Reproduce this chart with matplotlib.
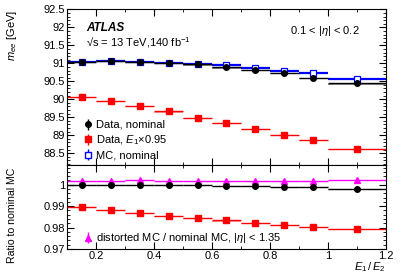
import numpy as np
import matplotlib
matplotlib.use("Agg")
import matplotlib.pyplot as plt
from matplotlib.ticker import MultipleLocator, FuncFormatter

plt.rcParams['font.family'] = ['Liberation Sans', 'DejaVu Sans']
plt.rcParams['mathtext.fontset'] = 'custom'
plt.rcParams['mathtext.it'] = 'Liberation Sans:italic'
plt.rcParams['mathtext.rm'] = 'Liberation Sans'

# bins in E1/E2
bin_lo = [0.1, 0.2, 0.3, 0.4, 0.5, 0.6, 0.7, 0.8, 0.9, 1.0]
bin_hi = [0.2, 0.3, 0.4, 0.5, 0.6, 0.7, 0.8, 0.9, 1.0, 1.2]

# top panel: m_ee [GeV]
data_nom = [91.04, 91.07, 91.05, 91.02, 90.97, 90.89, 90.81, 90.73, 90.60, 90.44]
data_scaled = [90.07, 89.96, 89.81, 89.66, 89.48, 89.34, 89.18, 89.01, 88.87, 88.62]
mc_nom = [91.04, 91.07, 91.05, 91.02, 90.98, 90.96, 90.87, 90.79, 90.72, 90.56]

# bottom panel: ratio to nominal MC
ratio_data = [0.9997, 0.9998, 1.0000, 0.9997, 0.9997, 0.9993, 0.9993, 0.9991, 0.9988, 0.9982]
ratio_scaled = [0.9897, 0.9882, 0.9868, 0.9855, 0.9844, 0.9833, 0.9822, 0.9813, 0.9804, 0.9795]
ratio_distorted = [1.0015, 1.0015, 1.0020, 1.0015, 1.0016, 1.0016, 1.0018, 1.0017, 1.0019, 1.0022]

lo = np.array(bin_lo)
hi = np.array(bin_hi)
x = (lo + hi) / 2
xerr = (hi - lo) / 2

fig = plt.figure(figsize=(4.07, 2.77), dpi=100)
ax1 = fig.add_axes([0.165, 0.403, 0.783, 0.563])
ax2 = fig.add_axes([0.165, 0.101, 0.783, 0.302], sharex=ax1)

fs = 8
fmt = FuncFormatter(lambda v, p: f'{v:g}')

# top panel
ax1.errorbar(x, mc_nom, xerr=xerr, yerr=0.01, fmt='s', color='blue', mfc='white',
             mec='blue', ms=4, lw=1.6, mew=0.9, zorder=2)
ax1.bar(x, 0.03, width=2 * xerr, bottom=np.array(data_nom) - 0.035, color='0.55', zorder=2)
ax1.errorbar(x, data_nom, xerr=xerr, yerr=0.01, fmt='o', color='black', ms=4, lw=1.0, zorder=3)
ax1.bar(x, 0.03, width=2 * xerr, bottom=np.array(data_scaled) - 0.035, color='#ff9999', zorder=2)
ax1.errorbar(x, data_scaled, xerr=xerr, yerr=0.01, fmt='s', color='red', ms=4, lw=1.0, zorder=3)

ax1.set_ylim(88.16, 92.5)
ax1.yaxis.set_major_locator(MultipleLocator(0.5))
ax1.yaxis.set_minor_locator(MultipleLocator(0.1))
ax1.yaxis.set_major_formatter(fmt)
plt.setp(ax1.get_xticklabels(), visible=False)

ax1.text(0.06, 0.86, 'ATLAS', transform=ax1.transAxes, fontsize=8.5,
         fontweight='bold', fontstyle='italic')
ax1.text(0.06, 0.765, '√s = 13 TeV,140 fb$^{-1}$', transform=ax1.transAxes, fontsize=fs)
ax1.text(0.70, 0.84, r'0.1 < |$\eta$| < 0.2', transform=ax1.transAxes, fontsize=fs)

hd = ax1.errorbar([], [], yerr=[], fmt='o', color='black', ms=4, lw=1.0)
hs = ax1.errorbar([], [], yerr=[], fmt='s', color='red', ms=4, lw=1.0)
hm = ax1.errorbar([], [], yerr=[], fmt='s', color='blue', mfc='white', ms=4, lw=1.0)
ax1.legend([hd, hs, hm], ['Data, nominal', r'Data, $E_1$$\times$0.95', 'MC, nominal'],
           loc='lower left', bbox_to_anchor=(0.03, -0.02), frameon=False, fontsize=fs,
           handlelength=0.6, handletextpad=0.4, labelspacing=0.32, borderpad=0.2)

# bottom panel
ax2.errorbar(x, ratio_distorted, xerr=xerr, yerr=0.0002, fmt='^', color='magenta', ms=4,
             lw=1.0, zorder=3)
ax2.bar(x, 0.0004, width=2 * xerr, bottom=np.array(ratio_data) - 0.0005, color='0.55', zorder=2)
ax2.errorbar(x, ratio_data, xerr=xerr, yerr=0.0002, fmt='o', color='black', ms=4, lw=1.0, zorder=3)
ax2.bar(x, 0.0004, width=2 * xerr, bottom=np.array(ratio_scaled) - 0.0005, color='#ff9999', zorder=2)
ax2.errorbar(x, ratio_scaled, xerr=xerr, yerr=0.0002, fmt='s', color='red', ms=4, lw=1.0, zorder=3)

ax2.set_ylim(0.97, 1.009)
ax2.yaxis.set_major_locator(MultipleLocator(0.01))
ax2.yaxis.set_minor_locator(MultipleLocator(0.002))
ax2.yaxis.set_major_formatter(fmt)
ax2.set_xlim(0.1, 1.2)
ax2.xaxis.set_major_locator(MultipleLocator(0.2))
ax2.xaxis.set_minor_locator(MultipleLocator(0.1))
ax2.xaxis.set_major_formatter(fmt)

h2 = ax2.errorbar([], [], yerr=[], fmt='^', color='magenta', ms=4, lw=1.0)
ax2.legend([h2], [r'distorted MC / nominal MC, |$\eta$| < 1.35'], loc='lower left',
           bbox_to_anchor=(0.03, -0.05), frameon=False, fontsize=fs, handlelength=0.6,
           handletextpad=0.4, borderpad=0.2)

for ax in (ax1, ax2):
    ax.tick_params(which='both', direction='in', top=True, right=True, labelsize=fs, pad=1.5)
    ax.tick_params(which='major', length=5, width=0.8)
    ax.tick_params(which='minor', length=2.5, width=0.6)
    for s in ax.spines.values():
        s.set_linewidth(0.8)

fig.text(0.03, 0.965, r'$m_{ee}$ [GeV]', rotation=90, ha='center', va='top', fontsize=fs)
fig.text(0.03, 0.05, 'Ratio to nominal MC', rotation=90, ha='center', va='bottom', fontsize=7.6)
fig.text(0.948, 0.01, r'$E_1\,/\,E_2$', ha='right', va='bottom', fontsize=fs)

fig.savefig('out.png', dpi=100)
